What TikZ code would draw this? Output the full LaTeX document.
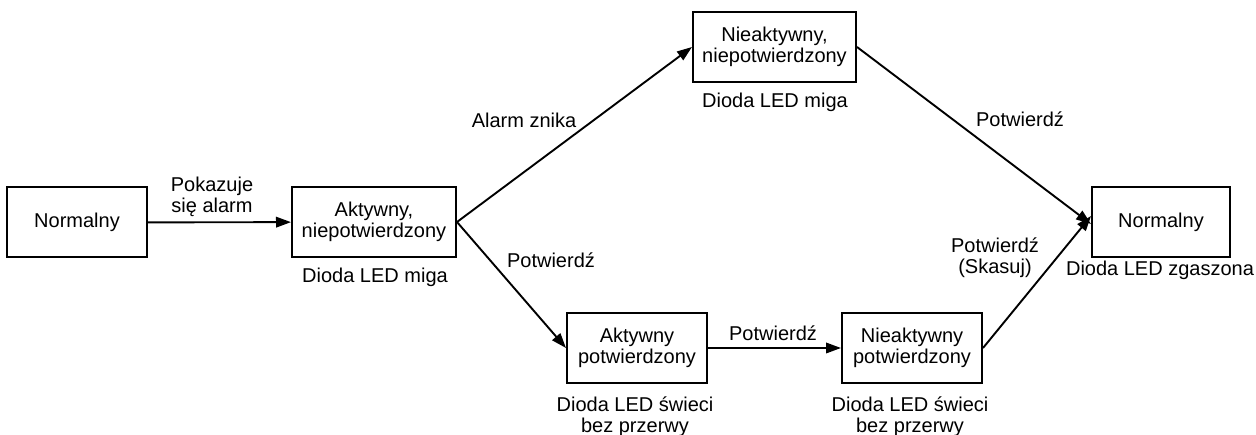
\documentclass[tikz,border=0pt]{standalone}
\usepackage{fontspec}
\setmainfont{Liberation Sans}
\usetikzlibrary{arrows.meta}
\begin{document}
\begin{tikzpicture}[x=1pt,y=-1pt,
  every node/.style={font=\fontsize{20}{21}\selectfont, inner sep=0pt},
  statebox/.style={draw, line width=2pt, minimum height=70pt, align=center},
  lbl/.style={align=center},
  conn/.style={line width=1.9pt, -{Triangle[length=15pt,width=10.5pt]}}]
\useasboundingbox (0,0) rectangle (1256,435);
\node[statebox, minimum width=140pt] (n1) at (77,222.5) {Normalny};
\node[statebox, minimum width=164pt] (a1) at (374,222) {Aktywny,\\niepotwierdzony};
\node[statebox, minimum width=163pt] (t) at (774.5,47) {Nieaktywny,\\niepotwierdzony};
\node[statebox, minimum width=140pt] (ap) at (637,348) {Aktywny\\potwierdzony};
\node[statebox, minimum width=140pt] (np) at (912,348) {Nieaktywny\\potwierdzony};
\node[statebox, minimum width=138pt] (n2) at (1161,222) {Normalny};

\coordinate (n2a) at ([yshift=-2pt]n2.west);
\coordinate (n2b) at ([yshift=6pt]n2.west);

\draw[conn] (n1) -- (a1);
\draw[conn] (a1.east) -- (t.west);
\draw[conn] (a1.east) -- (ap.west);
\draw[conn] (ap) -- (np);
\draw[conn] (t.east) -- (n2a);
\draw[conn] (np.east) -- (n2b);

\node[lbl] (l1) at (212,197) {Pokazuje\\się alarm};
\node[lbl] (l2) at (375,277) {Dioda LED miga};
\node[lbl] (l3) at (524,120) {Alarm znika};
\node[lbl] (l4) at (775,102) {Dioda LED miga};
\node[lbl] (l5) at (1020,119) {Potwierdź};
\node[lbl] (l6) at (551,260) {Potwierdź};
\node[lbl] (l7) at (773,333) {Potwierdź};
\node[lbl] (l8) at (995,258) {Potwierdź\\(Skasuj)};
\node[lbl] (l9) at (635,417) {Dioda LED świeci\\bez przerwy};
\node[lbl] (l10) at (910,417) {Dioda LED świeci\\bez przerwy};
\node[lbl] (l11) at (1160,270) {Dioda LED zgaszona};
\end{tikzpicture}
\end{document}
